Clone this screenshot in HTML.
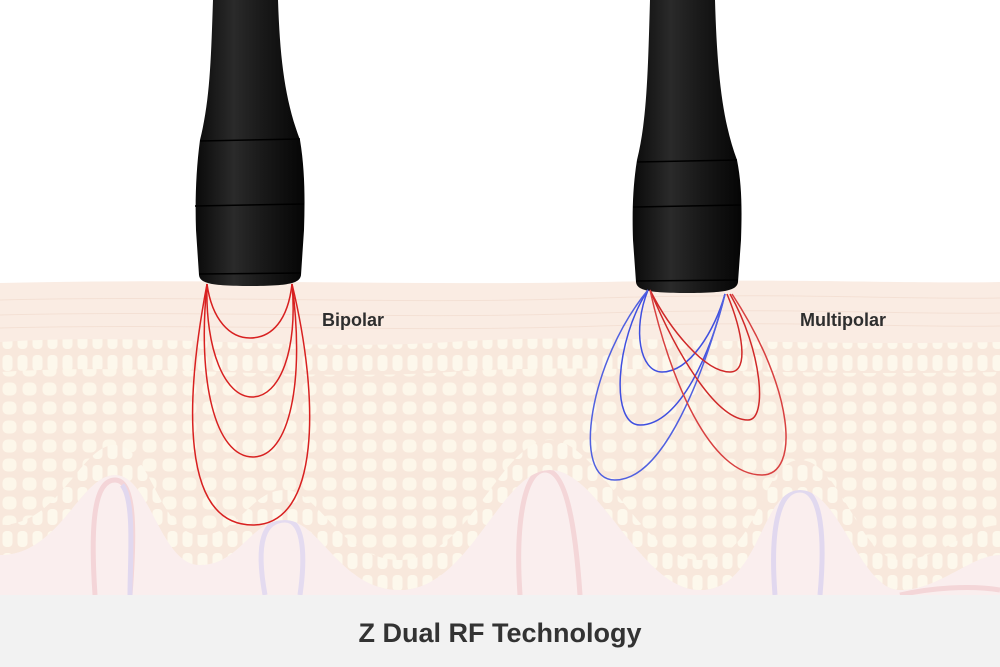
<!DOCTYPE html>
<html><head><meta charset="utf-8"><style>
html,body{margin:0;padding:0;background:#fff}
svg{display:block}
</style></head><body>
<svg width="1000" height="667" viewBox="0 0 1000 667" xmlns="http://www.w3.org/2000/svg">
<defs>
<pattern id="cells" width="20" height="19" patternUnits="userSpaceOnUse">
<rect width="20" height="19" fill="#f6e0d0"/>
<rect x="2.5" y="2.5" width="14" height="13" rx="5" fill="#fdf5e3"/>
</pattern>
<pattern id="cells2" width="15" height="22" patternUnits="userSpaceOnUse">
<rect width="15" height="22" fill="#f6e0d0"/>
<rect x="2.5" y="3" width="10" height="16" rx="4" fill="#fdf6e6"/>
</pattern>
<linearGradient id="hg" x1="0" x2="1" y1="0" y2="0">
<stop offset="0" stop-color="#0a0a0a"/><stop offset="0.35" stop-color="#2a2a2a"/><stop offset="0.6" stop-color="#1a1a1a"/><stop offset="1" stop-color="#050505"/>
</linearGradient>
</defs>
<rect width="1000" height="667" fill="#fff"/>
<!-- dermis -->
<rect x="0" y="330" width="1000" height="265" fill="#f8e9e8"/>
<!-- vessels -->
<g fill="none" stroke-width="5" opacity="0.45">
<path d="M95,595 C90,520 95,480 115,480 C135,480 135,530 130,595" stroke="#e7a0a8"/>
<path d="M122,485 C135,500 130,560 130,595" stroke="#b0a8ee"/>
<path d="M265,595 C255,540 265,520 285,520 C305,520 305,560 300,595" stroke="#b8b0f0"/>
<path d="M520,595 C515,520 525,470 545,470 C565,470 575,520 580,595" stroke="#e7a0a8"/>
<path d="M775,595 C770,530 778,490 800,490 C822,490 825,540 820,595" stroke="#b0a8ee"/>
<path d="M900,595 C930,588 970,585 1000,590" stroke="#e7a0a8"/>
</g>
<!-- cell layer -->
<path d="M0,340 C150,330 300,350 450,340 C600,330 750,345 1000,340 L1000,555 C970,555 940,590 900,590 C860,590 840,490 800,490 C760,490 760,590 700,590 C640,590 600,470 550,470 C500,470 470,590 400,590 C340,590 320,520 285,520 C250,520 240,565 200,565 C160,565 150,475 115,475 C80,475 60,555 0,555 Z" fill="url(#cells)"/>
<path d="M0,525 C60,525 80,445 115,445 C150,445 160,535 200,535 C240,535 250,490 285,490 C320,490 340,560 400,560 C470,560 500,440 550,440 C600,440 640,560 700,560 C760,560 760,460 800,460 C840,460 860,560 900,560 C940,560 970,525 1000,525 L1000,555 C970,555 940,590 900,590 C860,590 840,490 800,490 C760,490 760,590 700,590 C640,590 600,470 550,470 C500,470 470,590 400,590 C340,590 320,520 285,520 C250,520 240,565 200,565 C160,565 150,475 115,475 C80,475 60,555 0,555 Z" fill="url(#cells2)"/>
<path d="M0,340 C150,330 300,350 450,340 C600,330 750,345 1000,340 L1000,372 C750,377 600,362 450,372 C300,382 150,362 0,372 Z" fill="url(#cells2)"/>
<!-- wash to lighten -->
<rect x="0" y="280" width="1000" height="315" fill="#fff" opacity="0.25"/>
<!-- top layer -->
<path d="M0,283 C200,278 400,286 600,282 C800,278 900,284 1000,282 L1000,342 C750,347 600,332 450,342 C300,352 150,332 0,342 Z" fill="#faece3"/>
<g stroke="#f2dccf" stroke-width="1" fill="none" opacity="0.7">
<path d="M0,300 C200,295 400,305 600,298 C800,292 900,300 1000,298"/>
<path d="M0,315 C200,310 400,320 600,313 C800,307 900,315 1000,313"/>
<path d="M0,328 C200,323 400,333 600,326 C800,320 900,328 1000,326"/>
</g>
<!-- bottom band -->
<rect x="0" y="595" width="1000" height="72" fill="#f2f2f2"/>
<text x="500" y="642" text-anchor="middle" font-family="Liberation Sans, sans-serif" font-weight="bold" font-size="27" fill="#333">Z Dual RF Technology</text>
<!-- left handle -->
<path d="M213,0 L278,0 C280,60 285,100 300,140 C305,170 305,200 304,230 L301,275 C300,283 290,286 250,286 C210,286 200,283 199,275 L196,230 C195,200 196,170 200,140 C210,100 211,60 213,0 Z" fill="url(#hg)"/>
<g stroke="#000" stroke-width="1.5"><line x1="200" y1="141" x2="300" y2="139"/><line x1="195" y1="206" x2="304" y2="204"/><line x1="199" y1="274" x2="301" y2="273"/></g>
<!-- right handle -->
<path d="M650,0 L715,0 C717,70 722,120 737,160 C742,185 742,210 741,240 L738,282 C737,290 727,293 687,293 C647,293 637,290 636,282 L633,240 C632,210 633,185 637,160 C647,120 648,70 650,0 Z" fill="url(#hg)"/>
<g stroke="#000" stroke-width="1.5"><line x1="637" y1="162" x2="737" y2="160"/><line x1="633" y1="207" x2="741" y2="205"/><line x1="636" y1="281" x2="738" y2="280"/></g>
<!-- bipolar curves -->
<g fill="none" stroke="#d82020" stroke-width="1.5">
<path d="M207,284 C212,320 230,338 250,338 C272,338 288,320 292,284"/>
<path d="M207,284 C205,350 225,397 252,397 C280,397 298,350 292,284"/>
<path d="M207,284 C197,380 215,457 253,457 C290,457 305,380 292,284"/>
<path d="M207,284 C185,400 180,525 253,525 C320,525 320,400 292,284"/>
</g>
<!-- multipolar curves -->
<g fill="none" stroke-width="1.5">
<path d="M648,290 C632,330 640,372 662,372 C690,372 715,330 725,294" stroke="#3f4fe0"/>
<path d="M648,290 C615,340 610,425 640,425 C680,425 712,350 725,294" stroke="#3f4fe0"/>
<path d="M648,290 C590,360 570,480 615,480 C665,480 705,370 725,294" stroke="#5060e0"/>
<path d="M650,290 C670,330 705,372 730,372 C750,372 742,330 727,294" stroke="#d02828"/>
<path d="M650,290 C675,350 715,420 748,420 C768,420 762,350 730,294" stroke="#d02828"/>
<path d="M650,290 C670,380 710,475 762,475 C800,475 795,390 732,294" stroke="#d84040"/>
</g>
<text x="322" y="326" font-family="Liberation Sans, sans-serif" font-weight="bold" font-size="18" fill="#2e2e2e">Bipolar</text>
<text x="800" y="326" font-family="Liberation Sans, sans-serif" font-weight="bold" font-size="18" fill="#2e2e2e">Multipolar</text>
</svg>
</body></html>
